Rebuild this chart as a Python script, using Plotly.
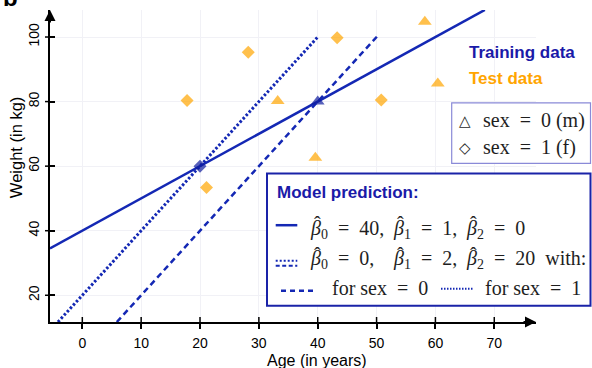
import plotly.graph_objects as go

# ---------------- data ----------------
train_age = [20, 40]
train_weight = [60, 80]
train_sex = [1, 0]          # 0 = m (triangle), 1 = f (diamond)

test_age = [17.8, 21.1, 28.2, 33.2, 39.6, 43.3, 50.8, 58.2, 60.4]
test_weight = [80.3, 53.4, 95.3, 80.2, 62.6, 99.8, 80.5, 104.7, 85.6]
test_sex = [1, 1, 1, 0, 0, 1, 1, 0, 0]

# model coefficients (beta0, beta1, beta2)
model_a = [40, 1, 0]
model_b = [0, 2, 20]
line_a_age = [-5.5, 68.4]
line_b_sex0_age = [5.86, 50.5]
line_b_sex1_age = [-4.14, 40.0]

x_ticks = [0, 10, 20, 30, 40, 50, 60, 70]
y_ticks = [20, 40, 60, 80, 100]
x_range = [-5.49, 77.09]
y_range = [11.72, 108.37]

# ---------------- styling ----------------
W, H = 592, 368
PL, PR, PT, PB = 50, 536, 10, 321.7
BLUE = "#1428B4"
DBLUE = "#0f1d9e"
ORANGE = "#FFA500"
SANS = "Liberation Sans, Arial, sans-serif"
SERIF = "Liberation Serif, Times New Roman, serif"
TXT = "#1e1e1e"
FS = 20


def fx(px):
    return (px - PL) / (PR - PL)


def fy(py):
    return (PB - py) / (PB - PT)


def pred(coef, ages, sex):
    return [coef[0] + coef[1] * a + coef[2] * sex for a in ages]


sym = {0: "triangle-up", 1: "diamond"}
msize = {0: 12, 1: 10}

fig = go.Figure()

# model lines
fig.add_trace(go.Scatter(x=line_a_age, y=pred(model_a, line_a_age, 0), mode="lines",
                         line=dict(color=BLUE, width=2.5), showlegend=False))
fig.add_trace(go.Scatter(x=line_b_sex0_age, y=pred(model_b, line_b_sex0_age, 0), mode="lines",
                         line=dict(color=BLUE, width=2.5, dash="6px,4px"), showlegend=False))
fig.add_trace(go.Scatter(x=line_b_sex1_age, y=pred(model_b, line_b_sex1_age, 1), mode="lines",
                         line=dict(color=BLUE, width=3, dash="2.5px,2px"), showlegend=False))

# test data
fig.add_trace(go.Scatter(x=test_age, y=test_weight, mode="markers",
                         marker=dict(color=ORANGE, size=[msize[s] for s in test_sex],
                                     symbol=[sym[s] for s in test_sex], line=dict(width=0)),
                         showlegend=False))
# training data
fig.add_trace(go.Scatter(x=train_age, y=train_weight, mode="markers",
                         marker=dict(color=DBLUE, size=[msize[s] for s in train_sex],
                                     symbol=[sym[s] for s in train_sex], line=dict(width=0)),
                         showlegend=False))

shapes = []
# crossing tick halves
for t in x_ticks:
    shapes.append(dict(type="line", xref="x", yref="paper", x0=t, x1=t, y0=0, y1=5 / (PB - PT),
                       line=dict(color="black", width=1.5)))
for t in y_ticks:
    shapes.append(dict(type="line", xref="paper", yref="y", x0=-5 / (PR - PL), x1=0, y0=t, y1=t,
                       line=dict(color="black", width=1.5)))

# legend box 1 (symbols)
shapes.append(dict(type="rect", xref="paper", yref="paper", x0=fx(451.7), x1=fx(590.5),
                   y0=fy(163.3), y1=fy(102.7), line=dict(color="#8a8ad8", width=1.2),
                   fillcolor="white"))
# legend box 2 (model prediction)
shapes.append(dict(type="rect", xref="paper", yref="paper", x0=fx(267), x1=fx(590.5),
                   y0=fy(305.5), y1=fy(173.3), line=dict(color="#1a23a8", width=2),
                   fillcolor="white"))
# sample lines in box 2
shapes.append(dict(type="line", xref="paper", yref="paper", x0=fx(275.7), x1=fx(297.3),
                   y0=fy(225), y1=fy(225), line=dict(color=BLUE, width=2.5)))
shapes.append(dict(type="line", xref="paper", yref="paper", x0=fx(275.7), x1=fx(297.3),
                   y0=fy(260.5), y1=fy(260.5), line=dict(color=BLUE, width=2, dash="2px,2px")))
shapes.append(dict(type="line", xref="paper", yref="paper", x0=fx(275.7), x1=fx(297.3),
                   y0=fy(265.5), y1=fy(265.5), line=dict(color=BLUE, width=2, dash="4px,2.5px")))
shapes.append(dict(type="line", xref="paper", yref="paper", x0=fx(281), x1=fx(314.3),
                   y0=fy(290.5), y1=fy(290.5), line=dict(color=BLUE, width=2.5, dash="5px,4px")))
shapes.append(dict(type="line", xref="paper", yref="paper", x0=fx(441), x1=fx(473.3),
                   y0=fy(288.5), y1=fy(288.5), line=dict(color=BLUE, width=2, dash="1.5px,1.5px")))

ann = []


def txt(px, py, text, size, color="black", family=SANS, xanchor="left", angle=0):
    ann.append(dict(xref="paper", yref="paper", x=fx(px), y=fy(py), text=text, showarrow=False,
                    xanchor=xanchor, yanchor="middle", textangle=angle,
                    font=dict(size=size, color=color, family=family)))


# axis arrows
ann.append(dict(xref="paper", yref="paper", x=1, y=0, ax=-14, ay=0, text="", showarrow=True,
                arrowhead=2, arrowsize=1.1, arrowwidth=2, arrowcolor="black"))
ann.append(dict(xref="paper", yref="paper", x=0, y=1, ax=0, ay=14, text="", showarrow=True,
                arrowhead=2, arrowsize=1.1, arrowwidth=2, arrowcolor="black"))

# axis titles
txt(317, 360, "Age (in years)", 16, xanchor="center")
txt(16, 148, "Weight (in kg)", 16.5, xanchor="center", angle=-90)
# panel label
ann.append(dict(xref="paper", yref="paper", x=fx(1), y=fy(13), text="<b>b</b>", showarrow=False,
                xanchor="left", yanchor="bottom", font=dict(size=24, color="black", family=SANS)))

# top legends
txt(467, 52.7, "<b>Training data</b>", 17, color="#1a1aa8")
txt(467, 78.3, "<b>Test data</b>", 17, color=ORANGE)

NB = "\u00a0"
EQ = f"{NB}{NB}={NB}{NB}"
txt(465, 121, "\u25B3", 15, color=TXT, family="DejaVu Sans", xanchor="center")
txt(465, 147.5, "\u25C7", 15, color=TXT, family="DejaVu Sans", xanchor="center")
txt(481, 120.7, f"sex{EQ}0{NB}(m)", FS, color=TXT, family=SERIF)
txt(481, 147.3, f"sex{EQ}1{NB}(f)", FS, color=TXT, family=SERIF)

# model prediction box
txt(275, 192.3, "<b>Model prediction:</b>", 17, color="#1a1aa8")


def beta(i, rest):
    return f"<i>\u03B2</i><sub>{i}</sub>{EQ}{rest}"


cols = [308, 391, 464]
rows_y = [229, 259.5]
row1 = [beta(0, "40,"), beta(1, "1,"), beta(2, "0")]
row2 = [beta(0, "0,"), beta(1, "2,"), beta(2, f"20{NB}{NB}with:")]
for ry, row in zip(rows_y, [row1, row2]):
    for c, t in zip(cols, row):
        txt(c, ry, t, FS, color=TXT, family=SERIF)
        # hat over beta
        txt(c + 9.5, ry - 5, "\u02C6", FS, color=TXT, family=SERIF, xanchor="center")
txt(330, 288, f"for{NB}sex{EQ}0", FS, color=TXT, family=SERIF)
txt(483, 288, f"for{NB}sex{EQ}1", FS, color=TXT, family=SERIF)

fig.update_layout(
    width=W, height=H, autosize=False,
    margin=dict(l=PL, r=W - PR, t=PT, b=H - PB, pad=0),
    paper_bgcolor="white", plot_bgcolor="white",
    shapes=shapes, annotations=ann,
    xaxis=dict(range=x_range, tickvals=x_ticks, ticktext=[str(v) for v in x_ticks],
               showline=True, linecolor="black", linewidth=2,
               ticks="outside", ticklen=5, tickwidth=1.5, tickcolor="black",
               ticklabelstandoff=2,
               showgrid=True, gridcolor="#f1f1f6", gridwidth=1, zeroline=False,
               tickfont=dict(family=SANS, size=14, color="black")),
    yaxis=dict(range=y_range, tickvals=y_ticks, ticktext=[str(v) for v in y_ticks],
               showline=True, linecolor="black", linewidth=2,
               ticks="inside", ticklen=5, tickwidth=1.5, tickcolor="black",
               tickangle=-90, ticklabelstandoff=3,
               showgrid=True, gridcolor="#f1f1f6", gridwidth=1, zeroline=False,
               tickfont=dict(family=SANS, size=14, color="black")),
)

fig.write_html("out.html")
